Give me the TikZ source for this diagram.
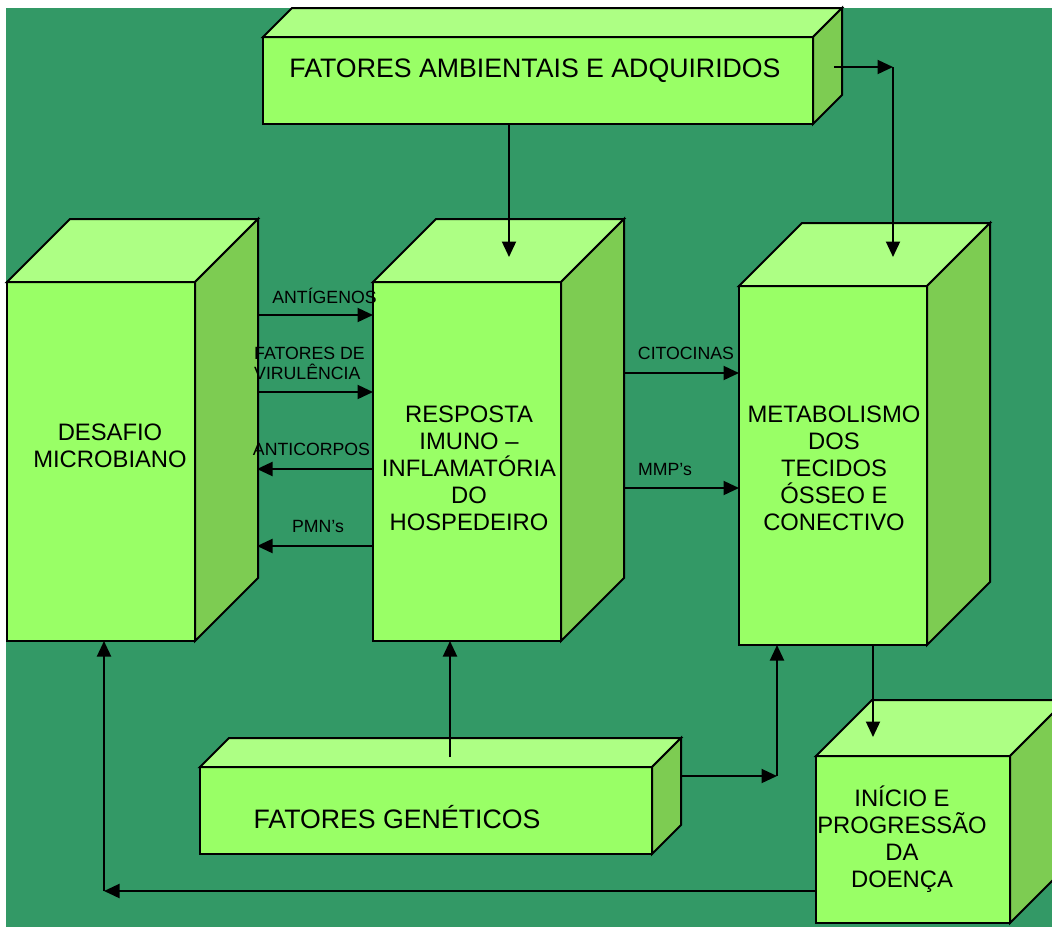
\documentclass[tikz,border=0pt]{standalone}
\usepackage{fontspec}
\setmainfont{Liberation Sans}
\usetikzlibrary{arrows.meta,calc}

\definecolor{bg}{HTML}{339966}
\definecolor{facefront}{HTML}{99FF66}
\definecolor{facetop}{HTML}{ADFF84}
\definecolor{faceside}{HTML}{7DCC52}

\tikzset{
  face/.style={draw=black, line width=2pt, fill=facefront, inner sep=0pt, outer sep=0pt, anchor=north west},
  edge/.style={draw=black, line width=2pt, line join=miter},
  arr/.style={line width=2pt, -{Triangle[length=15.5pt,width=14pt]}},
  bigtxt/.style={font=\fontsize{26.7}{30}\selectfont, text=black},
  boxtxt/.style={font=\fontsize{23.8}{27}\selectfont, align=center, text=black},
  lbl/.style={font=\fontsize{17.7}{20}\selectfont, text=black, inner sep=0pt}
}

% front face as a named node, plus top and right faces of the block
% #1 name, #2 x, #3 y (top-left of front face), #4 width, #5 height, #6 depth
\newcommand\cuboid[6]{%
  \node[face, minimum width=#4pt, minimum height=#5pt] (#1) at (#2,#3) {};
  \draw[edge, fill=facetop] (#1.north west) -- ++(#6,-#6)
      -- ($(#1.north east)+(#6,-#6)$) -- (#1.north east) -- cycle;
  \draw[edge, fill=faceside] (#1.north east) -- ++(#6,-#6)
      -- ($(#1.south east)+(#6,-#6)$) -- (#1.south east) -- cycle;
}

\begin{document}
\begin{tikzpicture}[x=1pt,y=-1pt]
  \useasboundingbox (0,0) rectangle (1052,927);
  \clip (0,0) rectangle (1052,927);
  \fill[white] (0,0) rectangle (1052,927);
  \fill[bg] (6,8) rectangle (1052,927);

  % blocks
  \cuboid{amb}{263}{37}{550}{87}{29}
  \cuboid{des}{7}{282}{188}{359}{63}
  \cuboid{resp}{373}{282}{188}{359}{63}
  \cuboid{meta}{739}{286}{188}{359}{63}
  \cuboid{gen}{200}{767}{452}{87}{29}
  \cuboid{ini}{816}{756}{194}{167}{56}

  % block texts
  \node[bigtxt] (amb-t) at (535,71) {FATORES AMBIENTAIS E ADQUIRIDOS};
  \node[boxtxt] (des-t) at (110,446) {DESAFIO\\MICROBIANO};
  \node[boxtxt] (resp-t) at (469,468.5) {RESPOSTA\\IMUNO –\\INFLAMATÓRIA\\DO\\HOSPEDEIRO};
  \node[boxtxt] (meta-t) at (834,468.5) {METABOLISMO\\DOS\\TECIDOS\\ÓSSEO E\\CONECTIVO};
  \node[bigtxt] (gen-t) at (397,817) {FATORES GENÉTICOS};
  \node[boxtxt] (ini-t) at (902,839) {INÍCIO E\\PROGRESSÃO\\DA\\DOENÇA};

  % environmental factors
  \draw[arr] ($(amb.south west)+(246,0)$) -- ($(resp.north west)+(136,-25)$);
  \coordinate (ambc) at (893,67);
  \draw[arr] ($(amb.east)+(21,-13.5)$) -- (ambc);
  \draw[arr] (ambc) -- ($(meta.north west)+(154,-29)$);

  % microbial challenge <-> host response
  \path ($(des.north east)+(62,33)$) coordinate (d1)
        ($(des.north east)+(62,110)$) coordinate (d2)
        ($(des.north east)+(62,187)$) coordinate (d3)
        ($(des.north east)+(62,264)$) coordinate (d4);
  \draw[arr] (d1) -- (d1 -| resp.west);
  \draw[arr] (d2) -- (d2 -| resp.west);
  \draw[arr] (d3 -| resp.west) -- (d3);
  \draw[arr] (d4 -| resp.west) -- (d4);
  \node[lbl] (l-ant) at (324.5,296) {ANTÍGENOS};
  \node[lbl, align=left, anchor=west] (l-vir) at (254,363) {FATORES DE\\VIRULÊNCIA};
  \node[lbl] (l-acp) at (311.5,449) {ANTICORPOS};
  \node[lbl] (l-pmn) at (318,526) {PMN’s};

  % host response -> tissue metabolism
  \path ($(resp.north east)+(63,91)$) coordinate (r1)
        ($(resp.north east)+(63,206)$) coordinate (r2);
  \draw[arr] (r1) -- (r1 -| meta.west);
  \draw[arr] (r2) -- (r2 -| meta.west);
  \node[lbl] (l-cit) at (686,353) {CITOCINAS};
  \node[lbl] (l-mmp) at (665,469) {MMP’s};

  % tissue metabolism -> disease
  \draw[arr] ($(meta.south)+(40,0)$) -- ($(ini.north west)+(57,-19)$);

  % genetic factors
  \path ($(gen.north west)+(250,-10)$) coordinate (g1);
  \draw[arr] (g1) -- (g1 |- resp.south);
  \coordinate (genc) at (777,776);
  \draw[arr] ($(gen.north east)+(30,9)$) -- (genc);
  \draw[arr] (genc) -- (genc |- meta.south);

  % disease feeds back to microbial challenge
  \coordinate (inic) at (104,891);
  \draw[arr] ($(ini.south west)+(0,-32)$) -- (inic);
  \draw[arr] (inic) -- (inic |- des.south);
\end{tikzpicture}
\end{document}
